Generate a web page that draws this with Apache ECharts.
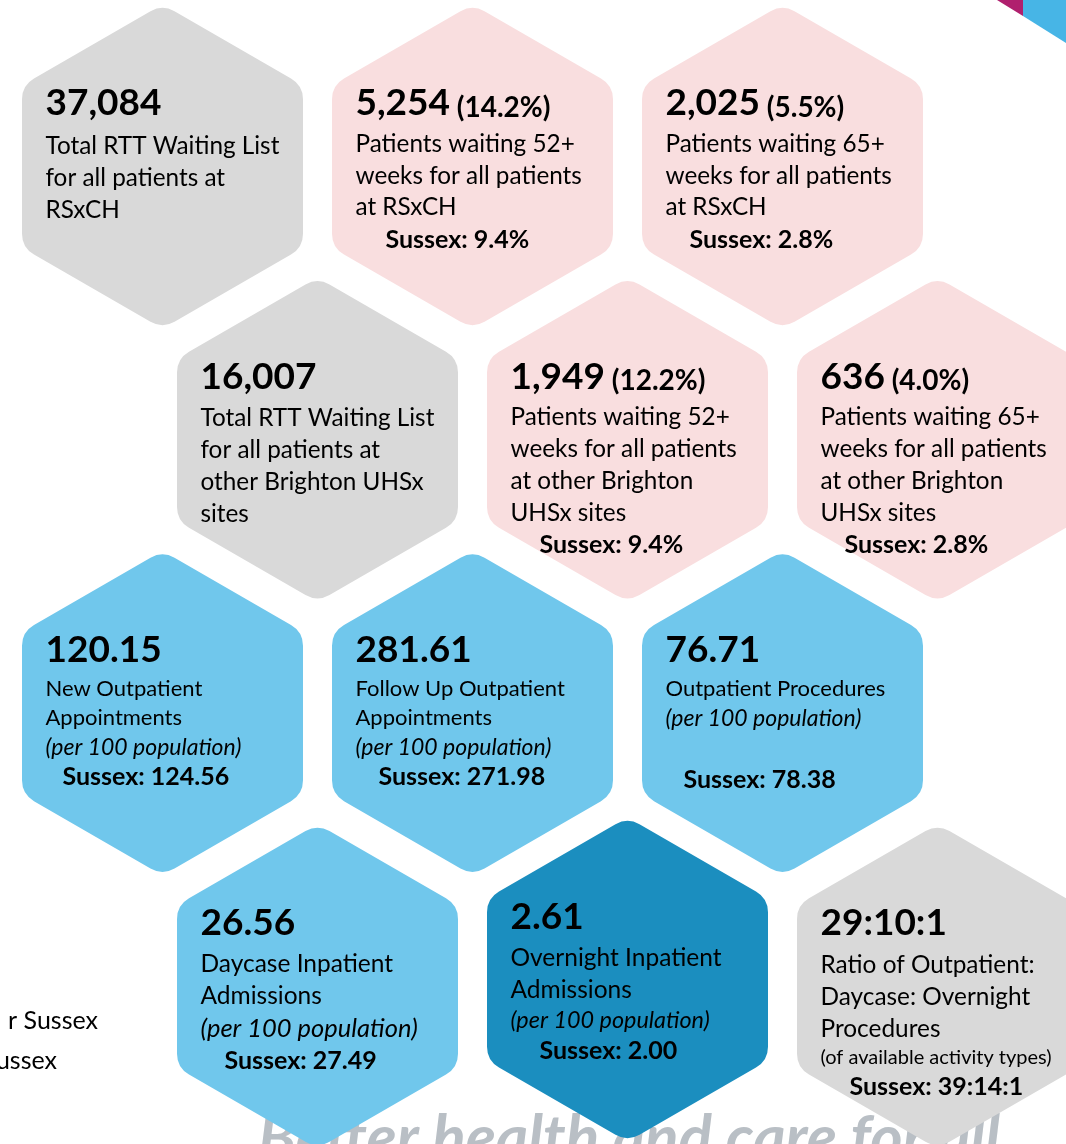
<!DOCTYPE html>
<html>
<head>
<meta charset="utf-8">
<script src="https://cdn.jsdelivr.net/npm/echarts@6/dist/echarts.min.js"></script>
<style>
html,body{margin:0;padding:0;background:#ffffff;}
#chart{width:1066px;height:1144px;}
</style>
</head>
<body>
<div id="chart"></div>
<script>
// ---------------- DATA ----------------
const headlineValues = ['37,084', '5,254', '2,025', '16,007', '1,949', '636',
                        '120.15', '281.61', '76.71', '26.56', '2.61', '29:10:1'];
const shareOfList = ['', '(14.2%)', '(5.5%)', '', '(12.2%)', '(4.0%)',
                     '', '', '', '', '', ''];
const descriptions = [
  ['Total RTT Waiting List', 'for all patients at', 'RSxCH'],
  ['Patients waiting 52+', 'weeks for all patients', 'at RSxCH'],
  ['Patients waiting 65+', 'weeks for all patients', 'at RSxCH'],
  ['Total RTT Waiting List', 'for all patients at', 'other Brighton UHSx', 'sites'],
  ['Patients waiting 52+', 'weeks for all patients', 'at other Brighton', 'UHSx sites'],
  ['Patients waiting 65+', 'weeks for all patients', 'at other Brighton', 'UHSx sites'],
  ['New Outpatient', 'Appointments'],
  ['Follow Up Outpatient', 'Appointments'],
  ['Outpatient Procedures'],
  ['Daycase Inpatient', 'Admissions'],
  ['Overnight Inpatient', 'Admissions'],
  ['Ratio of Outpatient:', 'Daycase: Overnight', 'Procedures']
];
const unitNotes = ['', '', '', '', '', '',
  '(per 100 population)', '(per 100 population)', '(per 100 population)',
  '(per 100 population)', '(per 100 population)', '(of available activity types)'];
const sussexLabel = 'Sussex: ';
const sussexValues = ['', '9.4%', '2.8%', '', '9.4%', '2.8%',
                      '124.56', '271.98', '78.38', '27.49', '2.00', '39:14:1'];
const cellGroup = ['total', 'long', 'long', 'total', 'long', 'long',
                   'rate', 'rate', 'rate', 'rate', 'overnight', 'ratio'];
const sideNotes = ['r Sussex', 'ussex'];
const tagline = 'Better health and care for all';

// ---------------- LAYOUT / STYLE ----------------
// honeycomb slot of each cell (column / row index)
const gridCol = [0, 1, 2, 0.5, 1.5, 2.5, 0, 1, 2, 0.5, 1.5, 2.5];
const gridRow = [0, 0, 0, 1, 1, 1, 2, 2, 2, 3, 2.975, 3];

const groupColour = {
  total: '#d9d9d9', long: '#f9dedf', rate: '#70c7ec', overnight: '#1b8ebf', ratio: '#d9d9d9'
};
const FONT = 'Lato, "Open Sans", sans-serif';
const cellLayout = [
  {first: 43, step: 32, desc: 24.3},
  {first: 41, step: 31.5, desc: 24.3, sus: 32, indent: 30},
  {first: 41, step: 31.5, desc: 24.3, sus: 32, indent: 24},
  {first: 41, step: 32, desc: 24.3},
  {first: 40, step: 32, desc: 24.3, sus: 32, indent: 29},
  {first: 40, step: 32, desc: 24.3, sus: 32, indent: 24},
  {first: 39, step: 29, desc: 22, noteSize: 23, italic: true, noteStep: 29, sus: 30, indent: 17},
  {first: 39, step: 29, desc: 22, noteSize: 23, italic: true, noteStep: 29, sus: 30, indent: 23},
  {first: 39, step: 29, desc: 22, noteSize: 23, italic: true, noteStep: 29, sus: 62, indent: 18},
  {first: 41, step: 32, desc: 24.5, noteSize: 25.5, italic: true, noteStep: 32, sus: 33, indent: 24},
  {first: 42, step: 32, desc: 24.5, noteSize: 23.4, italic: true, noteStep: 30, sus: 30, indent: 29},
  {first: 42, step: 32, desc: 24.4, noteSize: 20, italic: false, noteStep: 28, sus: 30, indent: 29}
];
const HALF_W = 140.5;                 // flat-to-flat half width
const RADIUS = HALF_W / Math.cos(Math.PI / 6);
const CORNER = 24;

function hexPath(cx, cy) {
  const v = [];
  for (let k = 0; k < 6; k++) {
    const a = (-90 + 60 * k) * Math.PI / 180;
    v.push([cx + RADIUS * Math.cos(a), cy + RADIUS * Math.sin(a)]);
  }
  const t = CORNER * Math.tan(Math.PI / 6);
  let d = '';
  for (let k = 0; k < 6; k++) {
    const p = v[k], prev = v[(k + 5) % 6], next = v[(k + 1) % 6];
    const lp = Math.hypot(prev[0] - p[0], prev[1] - p[1]);
    const ln = Math.hypot(next[0] - p[0], next[1] - p[1]);
    const A = [p[0] + (prev[0] - p[0]) * t / lp, p[1] + (prev[1] - p[1]) * t / lp];
    const B = [p[0] + (next[0] - p[0]) * t / ln, p[1] + (next[1] - p[1]) * t / ln];
    d += (k === 0 ? 'M' : 'L') + A[0].toFixed(2) + ' ' + A[1].toFixed(2) +
         'Q' + p[0].toFixed(2) + ' ' + p[1].toFixed(2) + ' ' + B[0].toFixed(2) + ' ' + B[1].toFixed(2);
  }
  return d + 'Z';
}

function textEl(x, y, text, size, weight, italic) {
  return {
    type: 'text',
    style: {
      x: x, y: y, text: text, fill: '#000000',
      fontSize: size, fontWeight: weight || 'normal', fontStyle: italic ? 'italic' : 'normal',
      fontFamily: FONT, align: 'left', verticalAlign: 'middle'
    }
  };
}

function renderItem(params, api) {
  const i = params.dataIndex;
  const c = api.coord([api.value(0), api.value(1)]);
  const cx = c[0], cy = c[1];
  const L = cellLayout[i];
  const left = cx - 117;
  const children = [{
    type: 'path',
    shape: {pathData: hexPath(cx, cy)},
    style: {fill: groupColour[cellGroup[i]]}
  }];
  let y = cy - 63;
  const titleText = shareOfList[i] ? '{v|' + headlineValues[i] + '}{p| ' + shareOfList[i] + '}'
                                    : '{v|' + headlineValues[i] + '}';
  children.push({
    type: 'text',
    style: {
      x: left, y: y, text: titleText, align: 'left', verticalAlign: 'middle',
      rich: {
        v: {fontSize: 37, fontWeight: 'bold', fontFamily: FONT, fill: '#000', verticalAlign: 'bottom'},
        p: {fontSize: 28, fontWeight: 'bold', fontFamily: FONT, fill: '#000', verticalAlign: 'bottom'}
      }
    }
  });
  y += L.first;
  descriptions[i].forEach(function (line, k) {
    if (k > 0) y += L.step;
    children.push(textEl(left, y, line, L.desc, 'normal', false));
  });
  if (unitNotes[i]) {
    y += L.noteStep;
    children.push(textEl(left, y, unitNotes[i], L.noteSize, 'normal', L.italic));
  }
  if (sussexValues[i]) {
    y += L.sus;
    children.push(textEl(left + L.indent, y, sussexLabel + sussexValues[i], 25, 'bold', false));
  }
  return {type: 'group', children: children};
}

const chart = echarts.init(document.getElementById('chart'), null, {renderer: 'canvas'});
const cellData = headlineValues.map(function (v, i) { return [gridCol[i], gridRow[i]]; });

chart.setOption({
  backgroundColor: '#ffffff',
  animation: false,
  grid: {left: 162.5, right: 283.5, top: 166.5, bottom: 157.6},
  xAxis: {type: 'value', min: 0, max: 2, show: false},
  yAxis: {type: 'value', min: 0, max: 3, inverse: true, show: false},
  graphic: [
    {type: 'polygon', z: 0, shape: {points: [[997, 0], [1023, 0], [1023, 16]]}, style: {fill: '#b0206e'}},
    {type: 'polygon', z: 0, shape: {points: [[1023, 0], [1066, 0], [1066, 43], [1023, 16]]}, style: {fill: '#47b5e6'}},
    {type: 'text', z: 0, style: {x: 98, y: 1021, text: sideNotes[0], align: 'right', verticalAlign: 'middle',
      fontSize: 25, fontFamily: FONT, fill: '#000'}},
    {type: 'text', z: 0, style: {x: 57, y: 1061, text: sideNotes[1], align: 'right', verticalAlign: 'middle',
      fontSize: 25, fontFamily: FONT, fill: '#000'}},
    {type: 'text', z: 0, style: {x: 258, y: 1139, text: tagline, align: 'left', verticalAlign: 'middle',
      fontSize: 62, fontWeight: 'bold', fontStyle: 'italic', fontFamily: FONT, fill: '#b9bfc5'}}
  ],
  series: [{
    type: 'custom',
    z: 5,
    coordinateSystem: 'cartesian2d',
    renderItem: renderItem,
    data: cellData,
    silent: true
  }]
});
</script>
</body>
</html>
